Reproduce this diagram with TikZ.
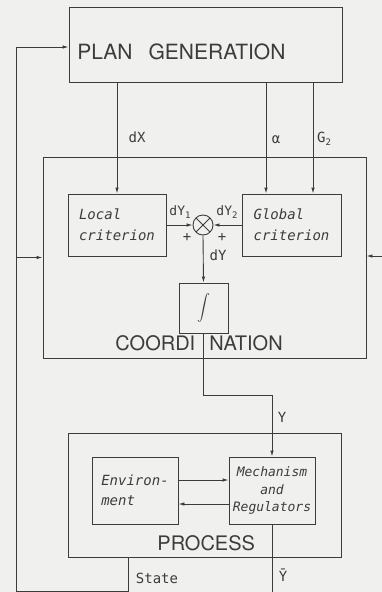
\documentclass[tikz,border=0pt]{standalone}
\usepackage{fontspec}
\setsansfont{TeX Gyre Heros}
\newfontfamily\handfont{DejaVu Sans Mono}
\usetikzlibrary{arrows.meta}
\definecolor{paper}{RGB}{240,240,238}
\definecolor{ink}{RGB}{60,60,60}
\newcommand{\lowsub}[1]{\raisebox{-2.5pt}{\fontsize{9}{9}\selectfont #1}}

\begin{document}
\begin{tikzpicture}[x=1pt, y=-1pt, line width=0.9pt, color=ink,
    box/.style={draw, rectangle, inner sep=0pt},
    title/.style={font=\sffamily\fontsize{20}{20}\selectfont, inner sep=0pt},
    hand/.style={font=\handfont\itshape\fontsize{14}{21}\selectfont},
    lbl/.style={font=\handfont\fontsize{14}{14}\selectfont, inner sep=0pt},
    arr/.style={-{Latex[length=6pt, width=3.5pt]}}]
  \path[use as bounding box, fill=paper] (0,0) rectangle (382,592);
  % blocks
  \node[box, minimum width=273pt, minimum height=75pt] (plan) at (205.5,44.5) {};
  \node[title, font=\sffamily\fontsize{21}{21}\selectfont, anchor=west] (plantxt) at (77,52) {PLAN\hspace{16pt}GENERATION};
  \node[box, minimum width=323pt, minimum height=201pt] (coord) at (204.5,257.5) {};
  \node[title, anchor=west] (coordtxt) at (115,343) {COORDI\hspace{14pt}NATION};
  \node[box, hand, minimum width=98pt, minimum height=62pt, align=left] (loc) at (117,225) {Local\\criterion};
  \node[box, hand, minimum width=99pt, minimum height=62pt, align=left] (glob) at (291.5,225) {Global\\criterion};
  \node[circle, draw, minimum size=20pt, inner sep=0pt,
        path picture={\draw (path picture bounding box.south west) -- (path picture bounding box.north east)
                            (path picture bounding box.north west) -- (path picture bounding box.south east);}] (sum) at (203,225) {};
  \node[box, minimum width=49pt, minimum height=50pt] (int) at (203.5,308) {\scalebox{1.3}{$\displaystyle\int$}};
  \node[box, minimum width=273pt, minimum height=124pt] (proc) at (204.5,495) {};
  \node[title, anchor=west] (proctxt) at (157,543) {PROCESS};
  \node[box, hand, font=\handfont\itshape\fontsize{14}{20}\selectfont, minimum width=86pt, minimum height=67pt, align=left] (env) at (135,490.5) {Environ-\\ment};
  \node[box, hand, font=\handfont\itshape\fontsize{13}{17.5}\selectfont, minimum width=86pt, minimum height=67pt, align=center] (mech) at (272,490.5) {Mechanism\\and\\Regulators};

  % helper points
  \coordinate (a) at (266,0);
  \coordinate (g) at (313,0);
  \coordinate (yb) at (0,395);
  \coordinate (st) at (128,0);
  \coordinate (fb) at (16,591);
  \coordinate (rin) at (382,256);
  \coordinate (bot) at (0,592);

  % connectors
  \draw[arr] (loc.north |- plan.south) -- (loc.north);
  \draw[arr] (a |- plan.south) -- (a |- glob.north);
  \draw[arr] (g |- plan.south) -- (g |- glob.north);
  \draw[arr] (loc.east) -- (sum.west);
  \draw[arr] (glob.west) -- (sum.east);
  \draw[arr] (sum.south) -- (int.north);
  \draw[arr] (int.south) -- (int.south |- yb) -| (mech.north);
  \draw[arr] ([yshift=10.5pt]env.east) -- ([yshift=10.5pt]mech.west);
  \draw[arr] ([yshift=-13.5pt]mech.west) -- ([yshift=-13.5pt]env.east);
  \draw (mech.south) -- (mech.south |- bot);
  \draw[arr] (st |- proc.south) |- (fb) |- ([yshift=-2.5pt]plan.west);
  \draw[arr] (coord.west -| fb) -- (coord.west);
  \draw[arr] (rin) -- (coord.east |- rin);

  % labels
  \node[lbl] (ldx) at (137,137) {dX};
  \node[lbl] (lal) at (276,140) {α};
  \node[lbl] (lg) at (324,139) {G\lowsub{2}};
  \node[lbl, font=\handfont\fontsize{13}{13}\selectfont] (ldy1) at (180,212) {dY\lowsub{1}};
  \node[lbl, font=\handfont\fontsize{13}{13}\selectfont] (ldy2) at (227,212) {dY\lowsub{2}};
  \node[lbl] (lp1) at (187,237) {+};
  \node[lbl] (lp2) at (222,237) {+};
  \node[lbl] (ldy) at (218,255) {dY};
  \node[lbl] (ly) at (282,417) {Y};
  \node[lbl] (lst) at (157,578) {State};
  \node[lbl] (lyb) at (283,575) {\=Y};
\end{tikzpicture}
\end{document}
